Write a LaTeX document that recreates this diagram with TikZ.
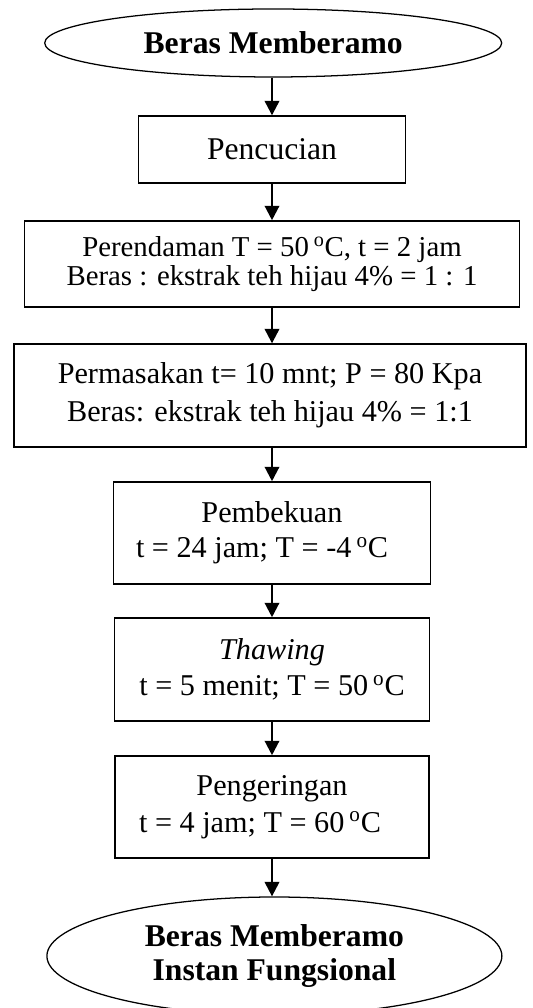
\documentclass[tikz,border=0pt]{standalone}
\usepackage{fontspec}
\setmainfont{Liberation Serif}
\usetikzlibrary{shapes.geometric,arrows.meta}

\begin{document}
\begin{tikzpicture}[
  proses/.style={draw, rectangle, line width=1.1pt, align=center, inner sep=0pt, font=\fontsize{21.5}{26}\selectfont},
  ujung/.style={draw, ellipse, line width=0.9pt, align=center, inner sep=0pt, font=\fontsize{22.5}{24}\selectfont\bfseries},
  panah/.style={-{Triangle[length=0.36cm,width=0.36cm]}, line width=1.6pt}]
\useasboundingbox (0,0) rectangle (13.3,25.2);
\draw (6.83,24.125) node (atas) [ujung, minimum width=11.425cm, minimum height=1.7cm] {Beras Memberamo};
\draw (6.8,21.46) node (cuci) [proses, minimum width=6.675cm, minimum height=1.675cm, font=\fontsize{22.5}{26}\selectfont] {Pencucian};
\draw (6.8,18.6) node (rendam) [proses, minimum width=12.375cm, minimum height=2.15cm, font=\fontsize{20.5}{20}\selectfont] {Perendaman T = 50\,\textsuperscript{o}C, t = 2 jam\\ Beras : ekstrak teh hijau 4\% = 1 : 1};
\draw (6.75,15.31) node (masak) [proses, minimum width=12.8cm, minimum height=2.575cm, font=\fontsize{21.5}{27}\selectfont] {Permasakan t= 10 mnt; P = 80 Kpa\\ Beras: ekstrak teh hijau 4\% = 1:1};
\draw (6.8,11.875) node (beku) [proses, minimum width=7.925cm, minimum height=2.55cm, font=\fontsize{21.5}{25}\selectfont] {Pembekuan\\ t = 24 jam; T = -4\,\textsuperscript{o}C\hspace*{0.5cm}};
\draw (6.8,8.4625) node (thaw) [proses, minimum width=7.875cm, minimum height=2.575cm] {\textit{Thawing}\\ t = 5 menit; T = 50\,\textsuperscript{o}C};
\draw (6.8,5.025) node (kering) [proses, minimum width=7.85cm, minimum height=2.55cm] {Pengeringan\\ t = 4 jam; T = 60\,\textsuperscript{o}C\hspace*{0.6cm}};
\draw (6.86,1.3) node (bawah) [ujung, minimum width=11.375cm, minimum height=2.95cm] {Beras Memberamo\\ Instan Fungsional};
\draw[panah] (atas.south -| cuci) -- (cuci.north);
\draw[panah] (cuci.south) -- (rendam.north);
\draw[panah] (rendam.south) -- (masak.north -| rendam);
\draw[panah] (masak.south -| beku) -- (beku.north);
\draw[panah] (beku.south) -- (thaw.north);
\draw[panah] (thaw.south) -- (kering.north);
\draw[panah] (kering.south) -- (kering.south |- bawah.north);
\end{tikzpicture}
\end{document}
